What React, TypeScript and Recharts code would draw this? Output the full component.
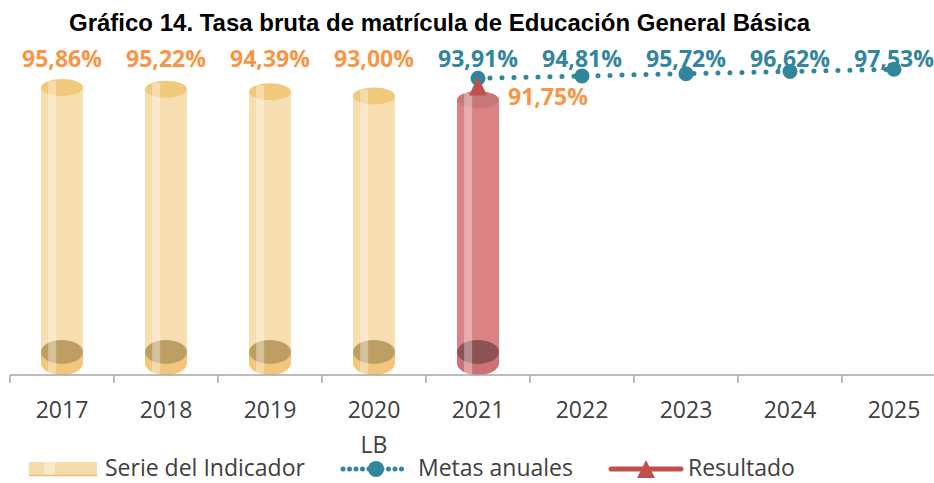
import React from "react";
import {
  ComposedChart,
  Bar,
  Line,
  XAxis,
  YAxis,
  Cell,
  LabelList,
  Legend,
} from "recharts";

const years = ["2017", "2018", "2019", "2020", "2021", "2022", "2023", "2024", "2025"];
const subLabels = ["", "", "", "LB", "", "", "", "", ""];
const serie = [95.86, 95.22, 94.39, 93.0, 91.75, null, null, null, null];
const metas = [null, null, null, null, 93.91, 94.81, 95.72, 96.62, 97.53];
const resultado = [null, null, null, null, 91.75, null, null, null, null];

const chartData = years.map((year, i) => ({
  year,
  sub: subLabels[i],
  serie: serie[i],
  metas: metas[i],
  resultado: resultado[i],
}));

const ORANGE = "#F79646";
const TEAL = "#31859C";
const RED = "#C0504D";
const TEXT = "#404040";
const AXIS = "#A6A6A6";
const FONT = "'Open Sans', 'Noto Sans', sans-serif";

const YELLOW_BODY = "#F7DEB0";
const RED_BODY = "#DA8284";

// colours of the cylinder parts, keyed by body colour
const palettes: Record<string, { body: string; cap: string; floor: string; top: string }> = {
  [YELLOW_BODY]: { body: YELLOW_BODY, cap: "#F2C77C", floor: "#B39457", top: "#F0C97C" },
  [RED_BODY]: { body: RED_BODY, cap: "#CF7275", floor: "#7E4A4B", top: "#C87879" },
};

const fmt = (v: any) => Number(v).toFixed(2).replace(".", ",") + "%";

const Cylinder = (props: any) => {
  const { x, y, width, height, fill } = props;
  if (height == null || height <= 0) return null;
  const c = palettes[fill] ?? palettes[YELLOW_BODY];
  const rx = width / 2;
  const cx = x + rx;
  const bottom = y + height;
  const ryT = 8.5;
  const ryB = 12;
  const bc = bottom - ryB;
  const fc = bottom - 23;
  return (
    <g>
      <path
        d={`M${x},${y} L${x},${bc} A${rx},${ryB} 0 0 0 ${x + width},${bc} L${x + width},${y} Z`}
        fill={c.body}
      />
      <path
        d={`M${x},${fc} L${x},${bc} A${rx},${ryB} 0 0 0 ${x + width},${bc} L${x + width},${fc} A${rx},${ryB} 0 0 1 ${x},${fc} Z`}
        fill={c.cap}
      />
      <ellipse cx={cx} cy={fc} rx={rx} ry={ryB} fill={c.floor} opacity={0.85} />
      <ellipse cx={cx} cy={y} rx={rx} ry={ryT} fill={c.top} />
      <rect x={x + width * 0.17} y={y - ryT + 2} width={width * 0.19} height={height + ryT - 3} fill="#ffffff" opacity={0.35} />
    </g>
  );
};

const Triangle = (props: any) => {
  const { cx, cy } = props;
  if (cx == null || cy == null || props.value == null) return null;
  return <path d={`M${cx},${cy - 7} L${cx + 9},${cy + 12} L${cx - 9},${cy + 12} Z`} fill={RED} />;
};

// year label, optional second line, and tick marks on the category boundaries
const YearTick = (props: any) => {
  const { x, y, payload, index, width, visibleTicksCount } = props;
  const half = width / visibleTicksCount / 2;
  const last = index === visibleTicksCount - 1;
  return (
    <g>
      <line x1={x - half} x2={x - half} y1={y} y2={y + 8} stroke={AXIS} strokeWidth={1.5} />
      {last ? <line x1={x + half} x2={x + half} y1={y} y2={y + 8} stroke={AXIS} strokeWidth={1.5} /> : null}
      <text x={x} y={y + 43} textAnchor="middle" fontFamily={FONT} fontSize={23} fill={TEXT}>
        {payload.value}
      </text>
      {subLabels[index] ? (
        <text x={x} y={y + 78} textAnchor="middle" fontFamily={FONT} fontSize={23} fill={TEXT}>
          {subLabels[index]}
        </text>
      ) : null}
    </g>
  );
};

const LegendBox = () => (
  <svg width={934} height={28} style={{ display: "block", overflow: "visible" }}>
    <rect x={29} y={7} width={68} height={14} fill="#F6DCAB" />
    <rect x={44} y={7} width={11} height={14} fill="#ffffff" opacity={0.4} />
    <line x1={29} x2={97} y1={20.5} y2={20.5} stroke="#E9BF78" strokeWidth={1.5} />
    <text x={105} y={21} fontFamily={FONT} fontSize={23} fill={TEXT}>Serie del Indicador</text>

    <line x1={343} x2={406} y1={14} y2={14} stroke={TEAL} strokeWidth={5} strokeLinecap="round" strokeDasharray="0 6.5" />
    <circle cx={376} cy={14} r={8} fill={TEAL} />
    <text x={418} y={21} fontFamily={FONT} fontSize={23} fill={TEXT}>Metas anuales</text>

    <line x1={611} x2={681} y1={14} y2={14} stroke={RED} strokeWidth={5} strokeLinecap="round" />
    <path d="M646,5 L655,23 L637,23 Z" fill={RED} />
    <text x={688} y={21} fontFamily={FONT} fontSize={23} fill={TEXT}>Resultado</text>
  </svg>
);

export default function App() {
  return (
    <div style={{ position: "absolute", left: 0, top: 0, width: 934, height: 483, overflow: "hidden", background: "#fff" }}>
      <div
        style={{
          position: "absolute",
          left: 69,
          top: 9,
          fontFamily: "'Liberation Sans', Arial, sans-serif",
          fontWeight: "bold",
          fontSize: 24,
          lineHeight: "27px",
          color: "#000",
          whiteSpace: "nowrap",
        }}
      >
        Gráfico 14. Tasa bruta de matrícula de Educación General Básica
      </div>
      <ComposedChart
        width={960}
        height={483}
        data={chartData}
        margin={{ top: 20, right: 14, bottom: 28, left: 10 }}
        style={{ position: "absolute", left: 0, top: 0 }}
      >
        <XAxis
          dataKey="year"
          height={80}
          axisLine={{ stroke: AXIS, strokeWidth: 1.5 }}
          tickLine={false}
          tickSize={0}
          tickMargin={0}
          interval={0}
          tick={<YearTick />}
        />
        <YAxis yAxisId="left" hide domain={[0, 118.33]} />
        <YAxis yAxisId="right" hide orientation="right" domain={[-25.3, 117.3]} />
        <Legend
          layout="horizontal"
          verticalAlign="middle"
          align="center"
          content={<LegendBox />}
          wrapperStyle={{ top: 455, left: 0, width: 934, height: 28 }}
        />
        <Bar yAxisId="left" dataKey="serie" barSize={42} shape={<Cylinder />} isAnimationActive={false}>
          {chartData.map((d, i) => (
            <Cell key={i} fill={d.resultado != null ? RED_BODY : YELLOW_BODY} />
          ))}
          <LabelList
            dataKey="serie"
            content={(p: any) =>
              p.value == null || p.index === 4 ? null : (
                <text x={p.x + p.width / 2} y={67} textAnchor="middle" fontFamily={FONT} fontWeight="bold" fontSize={23} fill={ORANGE}>
                  {fmt(p.value)}
                </text>
              )
            }
          />
        </Bar>
        <Line
          yAxisId="right"
          dataKey="metas"
          stroke={TEAL}
          strokeWidth={5}
          strokeLinecap="round"
          strokeDasharray="0 12"
          dot={{ r: 7.5, fill: TEAL, stroke: "none" }}
          activeDot={false}
          isAnimationActive={false}
        >
          <LabelList
            dataKey="metas"
            content={(p: any) =>
              p.value == null ? null : (
                <text x={p.x} y={67} textAnchor="middle" fontFamily={FONT} fontWeight="bold" fontSize={23} fill={TEAL}>
                  {fmt(p.value)}
                </text>
              )
            }
          />
        </Line>
        <Line
          yAxisId="right"
          dataKey="resultado"
          stroke="none"
          dot={<Triangle />}
          activeDot={false}
          isAnimationActive={false}
        >
          <LabelList
            dataKey="resultado"
            content={(p: any) =>
              p.value == null ? null : (
                <text x={p.x + 30} y={p.y + 21} textAnchor="start" fontFamily={FONT} fontWeight="bold" fontSize={23} fill={ORANGE}>
                  {fmt(p.value)}
                </text>
              )
            }
          />
        </Line>
      </ComposedChart>
    </div>
  );
}
